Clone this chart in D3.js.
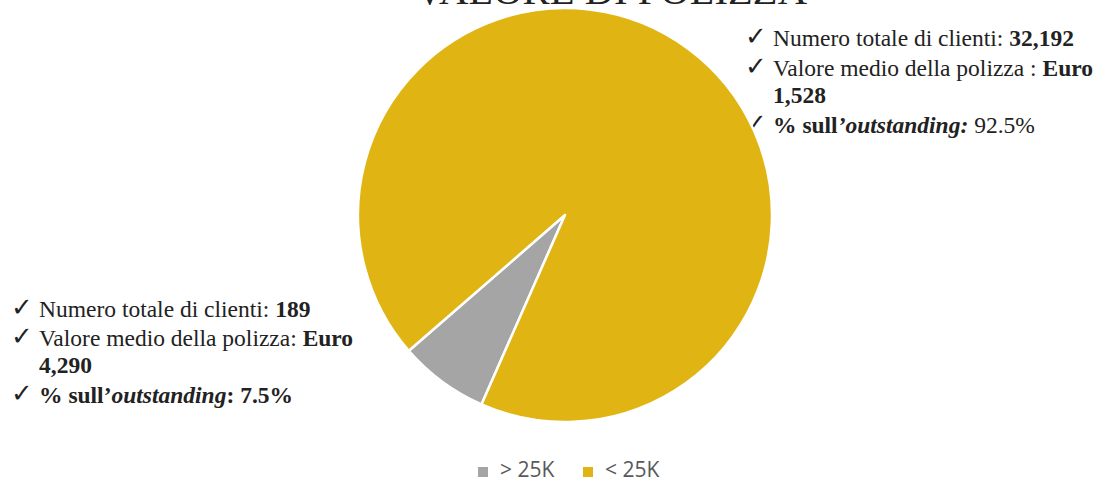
<!DOCTYPE html>
<html>
<head>
<meta charset="utf-8">
<script src="https://cdn.jsdelivr.net/npm/d3@7"></script>
<style>
  body { margin: 0; background: #fff; }
  svg { display: block; }
</style>
</head>
<body>
<div id="chart"></div>
<script>
const width = 1103;
const height = 481;

// data
const categories = ["> 25K", "< 25K"];
const shares = [7.0, 93.0];
const colors = ["#A5A5A5", "#E0B513"];
const title = "VALORE DI POLIZZA";

// annotation lines: each line is a list of [text, style]
const notesBig = [
  { check: true, parts: [["Numero totale di clienti: ", "n"], ["32,192", "b"]] },
  { check: true, parts: [["Valore medio della polizza : ", "n"], ["Euro", "b"]] },
  { check: false, parts: [["1,528", "b"]] },
  { check: true, parts: [["% sull", "b"], ["\u2019outstanding:", "bi"], [" 92.5%", "n"]] },
];
const notesSmall = [
  { check: true, parts: [["Numero totale di clienti: ", "n"], ["189", "b"]] },
  { check: true, parts: [["Valore medio della polizza: ", "n"], ["Euro", "b"]] },
  { check: false, parts: [["4,290", "b"]] },
  { check: true, parts: [["% sull\u2019", "b"], ["outstanding", "bi"], [": 7.5%", "b"]] },
];

const svg = d3.select("#chart")
  .append("svg")
  .attr("width", width)
  .attr("height", height);

const serif = "'Liberation Serif', 'Times New Roman', serif";

svg.append("text")
  .attr("x", 611)
  .attr("y", 4)
  .attr("text-anchor", "middle")
  .attr("font-family", serif)
  .attr("font-size", 40)
  .attr("textLength", 392)
  .attr("lengthAdjust", "spacingAndGlyphs")
  .attr("fill", "#222")
  .text(title);

function drawNotes(lines, x0, baselines) {
  const g = svg.append("g");
  lines.forEach((line, i) => {
    const y = baselines[i];
    if (line.check) {
      g.append("text")
        .attr("x", x0 - 1)
        .attr("y", y - 1)
        .attr("font-family", "'DejaVu Sans', sans-serif")
        .attr("font-size", 26)
        .attr("fill", "#222")
        .text("\u2713");
    }
    const t = g.append("text")
      .attr("x", x0 + 27)
      .attr("y", y)
      .attr("font-family", serif)
      .attr("font-size", 23.5)
      .attr("fill", "#222")
      .attr("xml:space", "preserve");
    line.parts.forEach(([s, style]) => {
      t.append("tspan")
        .attr("font-weight", style.includes("b") ? "bold" : "normal")
        .attr("font-style", style.includes("i") ? "italic" : "normal")
        .text(s);
    });
  });
}

drawNotes(notesBig, 746, [46, 76, 103, 133]);
drawNotes(notesSmall, 12, [317, 346, 373, 403]);

// pie (drawn after the notes so it covers part of a check mark, as in the original)
const cx = 565, cy = 215, r = 207;
const startAngle = 203.8 * Math.PI / 180;

const pie = d3.pie()
  .sort(null)
  .startAngle(startAngle)
  .endAngle(startAngle + 2 * Math.PI)
  .value((d) => d.value);

const arc = d3.arc().innerRadius(0).outerRadius(r);

const pieData = categories.map((c, i) => ({ name: c, value: shares[i], color: colors[i] }));

svg.append("g")
  .attr("transform", `translate(${cx},${cy})`)
  .selectAll("path")
  .data(pie(pieData))
  .enter()
  .append("path")
  .attr("d", arc)
  .attr("fill", (d) => d.data.color)
  .attr("stroke", "#fff")
  .attr("stroke-width", 2.5)
  .attr("stroke-linejoin", "round");

// legend
const legend = svg.append("g")
  .selectAll("g")
  .data(pieData)
  .enter()
  .append("g")
  .attr("transform", (d, i) => `translate(${[478, 583][i]},467)`);

legend.append("rect")
  .attr("width", 10)
  .attr("height", 10)
  .attr("fill", (d) => d.color);

legend.append("text")
  .attr("x", 22)
  .attr("y", 10)
  .attr("font-family", "'Open Sans', sans-serif")
  .attr("font-size", 21)
  .attr("fill", "#595959")
  .text((d) => d.name);
</script>
</body>
</html>
